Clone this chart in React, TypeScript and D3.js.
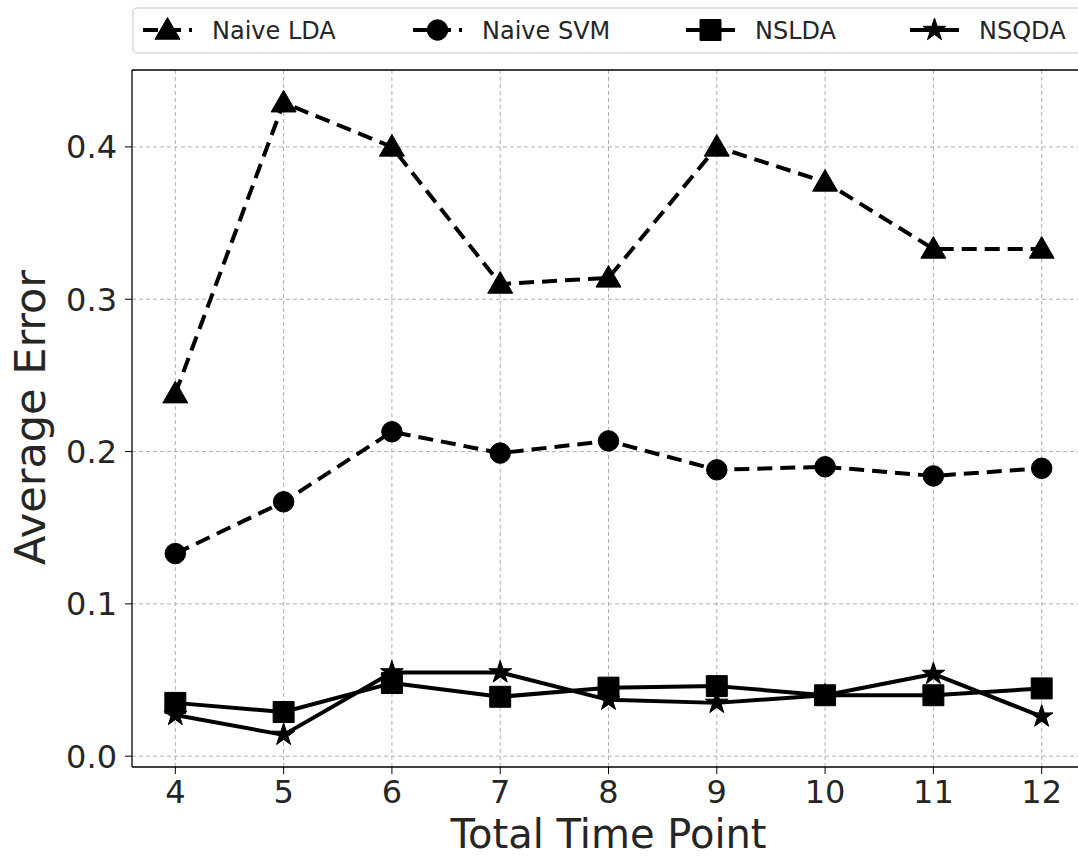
import React from "react";
import * as d3 from "d3";

const timePoints = [4, 5, 6, 7, 8, 9, 10, 11, 12];
const naiveLDA = [0.238, 0.429, 0.4, 0.31, 0.314, 0.4, 0.377, 0.333, 0.333];
const naiveSVM = [0.133, 0.167, 0.213, 0.199, 0.207, 0.188, 0.19, 0.184, 0.189];
const nsLDA = [0.035, 0.029, 0.048, 0.039, 0.045, 0.046, 0.04, 0.04, 0.0445];
const nsQDA = [0.027, 0.014, 0.055, 0.055, 0.037, 0.035, 0.04, 0.054, 0.026];
const yTicks = [0.0, 0.1, 0.2, 0.3, 0.4];
const seriesNames = ["Naive LDA", "Naive SVM", "NSLDA", "NSQDA"];

const W = 1078;
const H = 858;
const M = { left: 132, top: 70, right: 1085, bottom: 767 };
const FONT = "DejaVu Sans, sans-serif";

type MarkerKind = "triangle" | "circle" | "square" | "star";

const series: { name: string; values: number[]; dashed: boolean; marker: MarkerKind }[] = [
  { name: seriesNames[0], values: naiveLDA, dashed: true, marker: "triangle" },
  { name: seriesNames[1], values: naiveSVM, dashed: true, marker: "circle" },
  { name: seriesNames[2], values: nsLDA, dashed: false, marker: "square" },
  { name: seriesNames[3], values: nsQDA, dashed: false, marker: "star" },
];

const markerSymbol: Record<MarkerKind, d3.SymbolType> = {
  triangle: d3.symbolTriangle,
  circle: d3.symbolCircle,
  square: d3.symbolSquare,
  star: d3.symbolStar,
};
const markerSize: Record<MarkerKind, number> = {
  triangle: 270,
  circle: 330,
  square: 440,
  star: 160,
};

function Marker({ kind, x, y }: { kind: MarkerKind; x: number; y: number }) {
  const path = d3.symbol(markerSymbol[kind], markerSize[kind])() || "";
  const dy = kind === "triangle" ? 2 : 0;
  return <path d={path} transform={`translate(${x},${y + dy})`} fill="#000" stroke="#000" strokeWidth={1} />;
}

export default function App() {
  const x = d3.scaleLinear().domain([3.6, 12.4]).range([M.left, M.right]);
  const y = d3.scaleLinear().domain([-0.0071, 0.4505]).range([M.bottom, M.top]);
  const line = d3
    .line<number>()
    .x((_, i) => x(timePoints[i]))
    .y((d) => y(d));

  const legendX = [143, 413, 686, 910];

  return (
    <svg
      width={W}
      height={H}
      style={{ position: "absolute", left: 0, top: 0, background: "#fff" }}
      fontFamily={FONT}
    >
      <rect x={0} y={0} width={W} height={H} fill="#fff" />
      {/* grid */}
      <g stroke="#b0b0b0" strokeWidth={1} strokeDasharray="4,3">
        {timePoints.map((t) => (
          <line key={"gx" + t} x1={x(t)} x2={x(t)} y1={M.top} y2={M.bottom} />
        ))}
        {yTicks.map((v) => (
          <line key={"gy" + v} x1={M.left} x2={M.right} y1={y(v)} y2={y(v)} />
        ))}
      </g>
      {/* spines */}
      <g stroke="#000" strokeWidth={1.3} fill="none">
        <line x1={M.left} x2={M.left} y1={M.top} y2={M.bottom} />
        <line x1={M.left} x2={M.right} y1={M.top} y2={M.top} />
        <line x1={M.left} x2={M.right} y1={M.bottom} y2={M.bottom} />
      </g>
      {/* ticks */}
      <g stroke="#000" strokeWidth={1}>
        {timePoints.map((t) => (
          <line key={"tx" + t} x1={x(t)} x2={x(t)} y1={M.bottom} y2={M.bottom + 7} />
        ))}
        {yTicks.map((v) => (
          <line key={"ty" + v} x1={M.left - 7} x2={M.left} y1={y(v)} y2={y(v)} />
        ))}
      </g>
      <g fontSize={32} fill="#262626">
        {timePoints.map((t) => (
          <text key={"lx" + t} x={x(t)} y={M.bottom + 36} textAnchor="middle">
            {t}
          </text>
        ))}
        {yTicks.map((v) => (
          <text key={"ly" + v} x={M.left - 15} y={y(v)} dy="0.36em" textAnchor="end">
            {v.toFixed(1)}
          </text>
        ))}
      </g>
      <text x={(440 + 777) / 2} y={848} fontSize={40} textAnchor="middle" fill="#262626">
        Total Time Point
      </text>
      <text
        transform={`translate(45,${(270 + 565) / 2}) rotate(-90)`}
        fontSize={43}
        textAnchor="middle"
        fill="#262626"
      >
        Average Error
      </text>
      {/* series */}
      {series.map((s) => (
        <g key={s.name}>
          <path
            d={line(s.values) || ""}
            fill="none"
            stroke="#000"
            strokeWidth={4}
            strokeDasharray={s.dashed ? "15,8" : undefined}
            strokeLinejoin="round"
          />
          {s.values.map((v, i) => (
            <Marker key={i} kind={s.marker} x={x(timePoints[i])} y={y(v)} />
          ))}
        </g>
      ))}
      {/* legend */}
      <rect x={133} y={8} width={960} height={45} rx={4} fill="#fff" stroke="#d9d9d9" strokeWidth={1.5} />
      {series.map((s, i) => (
        <g key={"leg" + s.name}>
          <line
            x1={legendX[i]}
            x2={legendX[i] + 49}
            y1={30}
            y2={30}
            stroke="#000"
            strokeWidth={4}
            strokeDasharray={s.dashed ? "15,8" : undefined}
          />
          <Marker kind={s.marker} x={legendX[i] + 24.5} y={30} />
          <text x={legendX[i] + 69} y={30} dy="0.36em" fontSize={24} fill="#262626">
            {s.name}
          </text>
        </g>
      ))}
    </svg>
  );
}
